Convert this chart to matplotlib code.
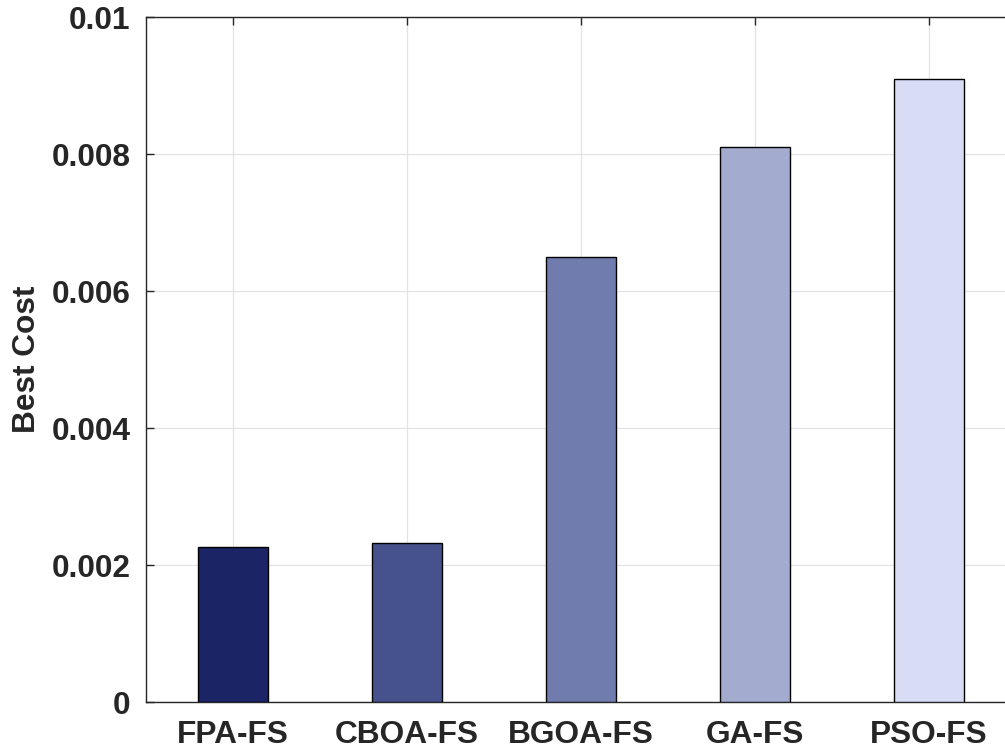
import matplotlib.pyplot as plt

# data
methods = ['FPA-FS', 'CBOA-FS', 'BGOA-FS', 'GA-FS', 'PSO-FS']
best_cost = [0.00227, 0.002325, 0.006505, 0.008115, 0.009108]
colors = ['#1b2464', '#46528c', '#717cae', '#a3abcf', '#d8dcf4']
yticks = [0, 0.002, 0.004, 0.006, 0.008, 0.01]
ytick_labels = ['0', '0.002', '0.004', '0.006', '0.008', '0.01']

plt.rcParams['font.family'] = ['Liberation Sans', 'DejaVu Sans']
plt.rcParams['font.weight'] = 'bold'

fig = plt.figure(figsize=(10.05, 7.51), dpi=100)
ax = fig.add_axes([0.1453, 0.0652, 0.8657, 0.9115])

x = list(range(1, len(methods) + 1))
ax.bar(x, best_cost, width=0.4, color=colors, edgecolor='black', linewidth=1.0, zorder=3)

ax.set_xlim(0.5, 5.5)
ax.set_ylim(0, 0.01)
ax.set_xticks(x)
ax.set_xticklabels(methods)
ax.set_yticks(yticks)
ax.set_yticklabels(ytick_labels)

ax.grid(True, color='#e3e3e3', linewidth=0.9, zorder=0)
ax.set_axisbelow(True)

for s in ax.spines.values():
    s.set_color('#262626')
    s.set_linewidth(1.0)

ax.tick_params(axis='both', direction='in', length=6, width=1.0, color='#262626',
               labelsize=22.8, labelcolor='#262626', top=True, right=True)
ax.tick_params(axis='x', pad=13)
ax.tick_params(axis='y', pad=11)

ax.set_ylabel('Best Cost', fontsize=22.8, fontweight='bold', color='#262626', labelpad=7)

fig.savefig('out.png', dpi=100)
